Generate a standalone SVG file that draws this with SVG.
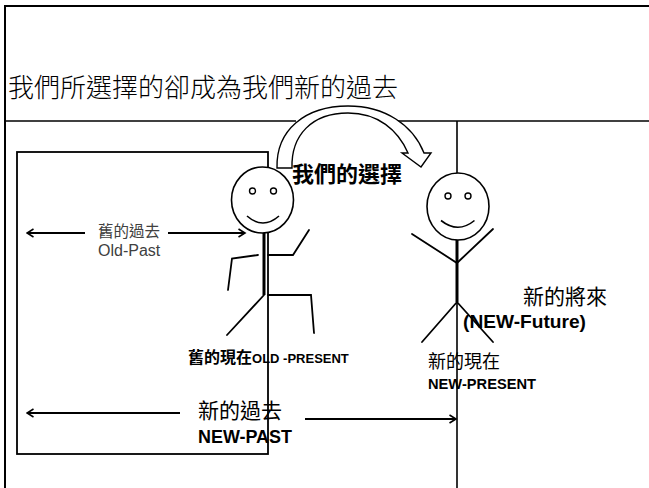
<svg xmlns="http://www.w3.org/2000/svg" width="649" height="488" viewBox="0 0 649 488">
  <style>
    .ln { stroke: #000; stroke-width: 1.6; fill: none; stroke-linecap: butt; }
    .thick { stroke: #000; stroke-width: 3; fill: none; }
    .limb { stroke: #000; stroke-width: 1.8; fill: none; stroke-linecap: round; stroke-linejoin: miter; }
    .head { fill: #fff; stroke: #000; stroke-width: 1.6; }
    .eye { fill: #fff; stroke: #000; stroke-width: 1.4; }
    .arr { stroke: #000; stroke-width: 1.8; fill: none; marker-end: url(#open); }
    .cjk { font-family: "Noto Sans CJK TC", "Noto Sans CJK SC", sans-serif; fill: #000; }
    .mix { font-family: "Liberation Sans", "Noto Sans CJK TC", sans-serif; fill: #000; }
    .b { font-weight: bold; }
  </style>
  <defs>
    <marker id="open" markerWidth="10" markerHeight="10" refX="8.5" refY="5" orient="auto" markerUnits="userSpaceOnUse">
      <path d="M2,1 L8.5,5 L2,9" fill="none" stroke="#000" stroke-width="1.6"/>
    </marker>
  </defs>

  <rect width="649" height="488" fill="#fff"/>

  <!-- slide frame and dividing lines -->
  <g id="frame">
    <path d="M5,488 V6 H649" fill="none" stroke="#000" stroke-width="2"/>
    <line class="ln" x1="5" y1="121" x2="296" y2="121"/>
    <line class="ln" x1="398" y1="121" x2="649" y2="121"/>
    <line class="ln" x1="457" y1="121" x2="457" y2="488"/>
  </g>

  <g id="title">
    <text class="cjk" x="8" y="97" font-size="26" font-weight="300">我們所選擇的卻成為我們新的過去</text>
  </g>

  <!-- the box of the old past -->
  <g id="old-past-box">
    <rect x="17" y="152" width="251" height="302" fill="none" stroke="#000" stroke-width="1.8"/>
  </g>

  <!-- curved block arrow: the choice -->
  <g id="choice">
    <path d="M277,168 C276,130 305,106 348,106 C385,106 413,125 424,153 L431,153 L421,167 L402,153 L408,153 C398,130 378,113 348,113 C312,113 291,135 292,168 Z" fill="#fff" stroke="#000" stroke-width="1.4" stroke-linejoin="miter"/>
    <text class="cjk b" x="292" y="182" font-size="22">我們的選擇</text>
  </g>

  <!-- stick figure: old present -->
  <g id="old-figure">
    <line class="thick" x1="264" y1="232" x2="264" y2="295"/>
    <polyline class="limb" points="268,255 293,255 309,230"/>
    <polyline class="limb" points="258,255 232,258.5 228,290"/>
    <line class="limb" x1="264" y1="295" x2="227" y2="335"/>
    <polyline class="limb" points="268,295 311,295 314,333"/>
    <ellipse class="head" cx="262.5" cy="200" rx="31" ry="33"/>
    <circle class="eye" cx="252.5" cy="191" r="3"/>
    <circle class="eye" cx="273.5" cy="191" r="3"/>
    <path d="M247,216 Q263,230 279,216" fill="none" stroke="#000" stroke-width="1.6"/>
    <text class="mix b" x="188" y="363"><tspan font-size="16">舊的現在</tspan><tspan font-size="13">OLD -PRESENT</tspan></text>
  </g>

  <!-- stick figure: new present -->
  <g id="new-figure">
    <line class="thick" x1="457" y1="238" x2="457" y2="302"/>
    <polyline class="limb" points="412,234 457,263 493,229"/>
    <polyline class="limb" points="422,342 457,302 493,342"/>
    <ellipse class="head" cx="458" cy="206.5" rx="31" ry="33.5"/>
    <circle class="eye" cx="448" cy="196" r="3"/>
    <circle class="eye" cx="468" cy="196" r="3"/>
    <path d="M441,220.5 Q458,234 474.5,220.5" fill="none" stroke="#000" stroke-width="1.6"/>
    <text class="cjk" x="428" y="368" font-size="18">新的現在</text>
    <text class="mix b" x="428" y="389" font-size="15" textLength="108" lengthAdjust="spacingAndGlyphs">NEW-PRESENT</text>
  </g>

  <g id="new-future">
    <text class="cjk" x="523" y="304" font-size="21">新的將來</text>
    <text class="mix b" x="463" y="328" font-size="18" textLength="123" lengthAdjust="spacingAndGlyphs">(NEW-Future)</text>
  </g>

  <g id="old-past-label">
    <text class="cjk" x="129" y="237" font-size="15.5" text-anchor="middle" fill="#404040" style="fill:#404040">舊的過去</text>
    <text x="98" y="256" font-size="16" font-family="Liberation Sans, sans-serif" fill="#404040">Old-Past</text>
  </g>

  <g id="new-past-label">
    <text class="cjk" x="198" y="418" font-size="21">新的過去</text>
    <text class="mix b" x="198" y="443" font-size="18" textLength="94" lengthAdjust="spacingAndGlyphs">NEW-PAST</text>
  </g>

  <!-- connectors -->
  <g id="connectors">
    <line class="arr" x1="85" y1="233" x2="27" y2="233"/>
    <line class="arr" x1="168" y1="233" x2="245" y2="233"/>
    <line class="arr" x1="180" y1="413" x2="27" y2="413"/>
    <line class="arr" x1="305" y1="419" x2="456" y2="419"/>
  </g>
</svg>
